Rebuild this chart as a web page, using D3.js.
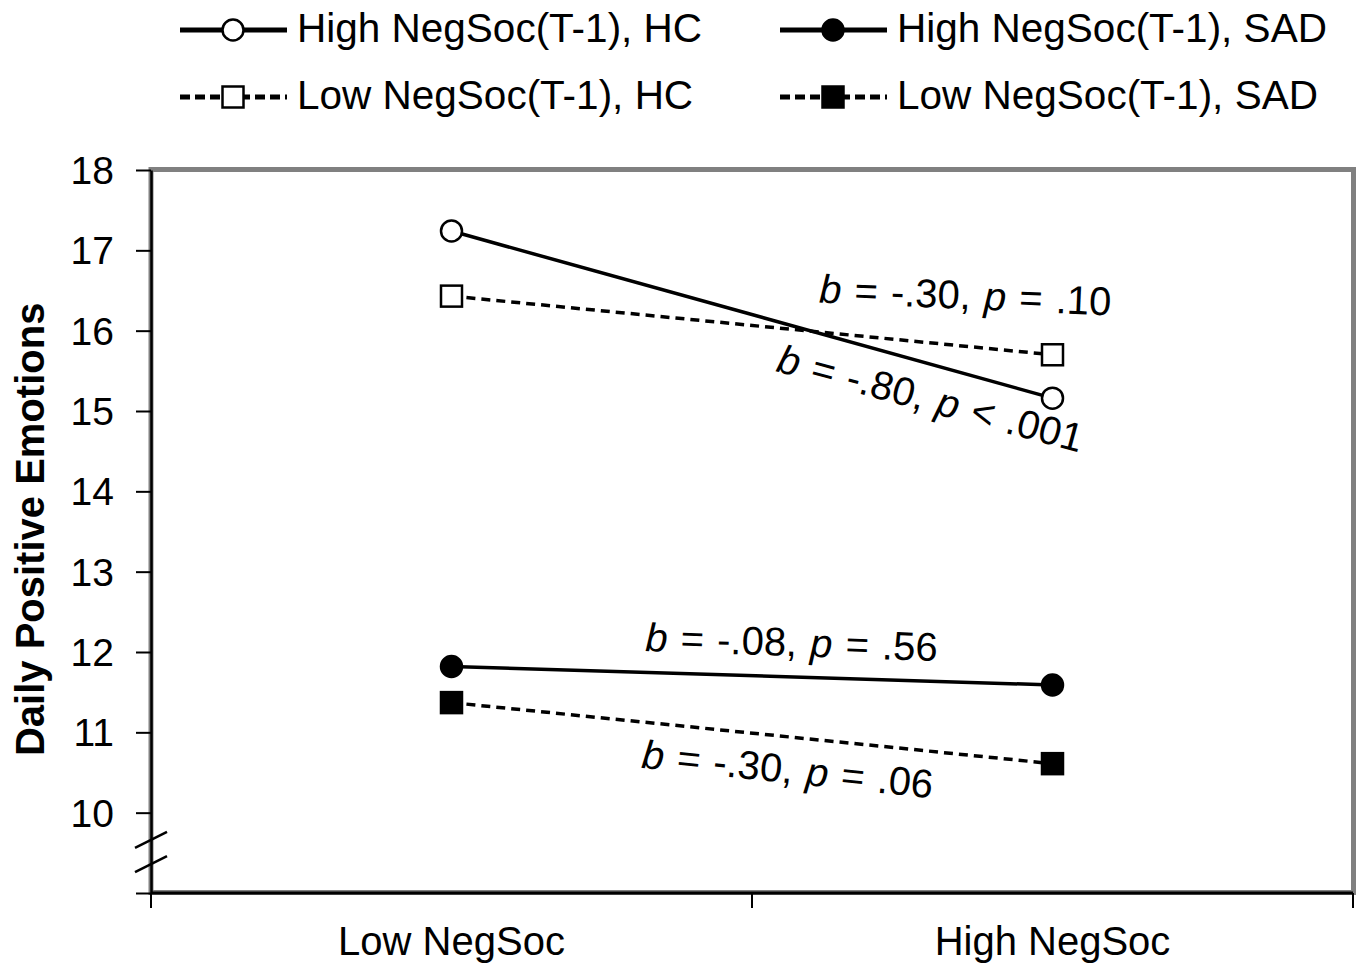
<!DOCTYPE html>
<html>
<head>
<meta charset="utf-8">
<script src="https://d3js.org/d3.v7.min.js"></script>
<style>
  body { margin: 0; background: #fff; }
  svg text { font-family: Arial, "Liberation Sans", sans-serif; fill: #000; }
</style>
</head>
<body>
<svg id="chart" width="1361" height="967"></svg>
<script>
// categories on the x axis
var categories = ["Low NegSoc", "High NegSoc"];
// series: name, values at [Low NegSoc, High NegSoc]
var seriesNames = ["High NegSoc(T-1), HC", "Low NegSoc(T-1), HC", "High NegSoc(T-1), SAD", "Low NegSoc(T-1), SAD"];
var highHC  = [17.24, 15.16];
var lowHC   = [16.43, 15.70];
var highSAD = [11.82, 11.59];
var lowSAD  = [11.37, 10.61];
var yTicks = [9, 10, 11, 12, 13, 14, 15, 16, 17, 18];
// annotations: text parts, position along x (0 = Low, 1 = High), y value, angle
var annoText = [
  ["b", " = -.30, ", "p", " = .10"],
  ["b", " = -.80, ", "p", " < .001"],
  ["b", " = -.08, ", "p", " = .56"],
  ["b", " = -.30, ", "p", " = .06"]
];
var annoT = [0.854, 0.791, 0.565, 0.557];
var annoY = [16.27, 14.99, 11.95, 10.37];
var annoAngle = [2.5, 15, 2, 6];

var series = [
  {name: seriesNames[0], values: highHC,  dashed: false, shape: "circle", fill: "#fff"},
  {name: seriesNames[1], values: lowHC,   dashed: true,  shape: "square", fill: "#fff"},
  {name: seriesNames[2], values: highSAD, dashed: false, shape: "circle", fill: "#000"},
  {name: seriesNames[3], values: lowSAD,  dashed: true,  shape: "square", fill: "#000"}
];

var svg = d3.select("#chart");
var plotLeft = 151, plotRight = 1353, plotTop = 170, plotBottom = 893;

var x = d3.scaleBand().domain(categories).range([plotLeft, plotRight]);
var y = d3.scaleLinear().domain([9, 18]).range([plotBottom, plotTop]);
var cx = function(i) { return x(categories[i]) + x.bandwidth() / 2; };

// grey plot frame
svg.append("rect")
  .attr("x", plotLeft).attr("y", plotTop - 0.5)
  .attr("width", plotRight - plotLeft + 0.5).attr("height", plotBottom - plotTop)
  .attr("fill", "none").attr("stroke", "#808080").attr("stroke-width", 5);

// y axis
var yAxis = d3.axisLeft(y).tickValues(yTicks)
  .tickFormat(function(d) { return d === 9 ? "" : d; })
  .tickSize(15).tickSizeOuter(0).tickPadding(22);
var gy = svg.append("g").attr("transform", "translate(" + plotLeft + ",0)").call(yAxis);
gy.select(".domain").attr("stroke", "#000").attr("stroke-width", 2.5);
gy.selectAll(".tick line").attr("stroke", "#000").attr("stroke-width", 2);
gy.selectAll(".tick text").style("font-size", "39px").attr("dy", "0.35em");

// axis break marks
[9.66, 9.36].forEach(function(v) {
  svg.append("line")
    .attr("x1", plotLeft - 16).attr("y1", y(v) + 8)
    .attr("x2", plotLeft + 16).attr("y2", y(v) - 8)
    .attr("stroke", "#000").attr("stroke-width", 2.5);
});

// x axis
svg.append("line")
  .attr("x1", plotLeft).attr("x2", plotRight).attr("y1", plotBottom).attr("y2", plotBottom)
  .attr("stroke", "#000").attr("stroke-width", 3);
var bounds = d3.range(categories.length + 1).map(function(i) { return plotLeft + i * x.step(); });
svg.selectAll(".xtick").data(bounds).enter().append("line")
  .attr("x1", function(d) { return d; }).attr("x2", function(d) { return d; })
  .attr("y1", plotBottom).attr("y2", plotBottom + 15)
  .attr("stroke", "#000").attr("stroke-width", 2);
svg.selectAll(".xlabel").data(categories).enter().append("text")
  .attr("x", function(d, i) { return cx(i); }).attr("y", 955)
  .attr("text-anchor", "middle").style("font-size", "40px")
  .text(function(d) { return d; });

// y axis title
svg.append("text")
  .attr("transform", "translate(44," + ((y(18) + y(10)) / 2 + 38) + ") rotate(-90)")
  .attr("text-anchor", "middle").style("font-size", "40px").style("font-weight", "bold")
  .text("Daily Positive Emotions");

// series lines
var line = d3.line().x(function(d, i) { return cx(i); }).y(function(d) { return y(d); });
series.forEach(function(s) {
  svg.append("path").datum(s.values)
    .attr("d", line).attr("fill", "none").attr("stroke", "#000").attr("stroke-width", 3.5)
    .attr("stroke-dasharray", s.dashed ? "9,6" : null);
});

function marker(g, s, px, py) {
  if (s.shape === "circle") {
    g.append("circle").attr("cx", px).attr("cy", py).attr("r", 10.5)
      .attr("fill", s.fill).attr("stroke", "#000").attr("stroke-width", 2.5);
  } else {
    g.append("rect").attr("x", px - 10.5).attr("y", py - 10.5).attr("width", 21).attr("height", 21)
      .attr("fill", s.fill).attr("stroke", "#000").attr("stroke-width", 2.5);
  }
}
series.forEach(function(s) {
  s.values.forEach(function(v, i) { marker(svg, s, cx(i), y(v)); });
});

// annotations
annoText.forEach(function(parts, k) {
  var ax = cx(0) + annoT[k] * (cx(1) - cx(0));
  var ay = y(annoY[k]);
  var t = svg.append("text")
    .attr("transform", "translate(" + ax + "," + ay + ") rotate(" + annoAngle[k] + ")")
    .attr("text-anchor", "middle").style("font-size", "40px").style("word-spacing", "2px")
    .attr("xml:space", "preserve");
  parts.forEach(function(p, j) {
    t.append("tspan").style("font-style", j % 2 === 0 ? "italic" : "normal").text(p);
  });
});

// legend
var legX = [180, 780], legY = [30, 97];
series.forEach(function(s, i) {
  var col = i < 2 ? 0 : 1, row = i % 2;
  var g = svg.append("g");
  g.append("line")
    .attr("x1", legX[col]).attr("x2", legX[col] + 107)
    .attr("y1", legY[row]).attr("y2", legY[row])
    .attr("stroke", "#000").attr("stroke-width", 5)
    .attr("stroke-dasharray", s.dashed ? "10,5" : null);
  marker(g, s, legX[col] + 53, legY[row]);
  g.append("text").attr("x", legX[col] + 117).attr("y", legY[row] + 12)
    .style("font-size", "40.5px").text(s.name);
});
</script>
</body>
</html>
